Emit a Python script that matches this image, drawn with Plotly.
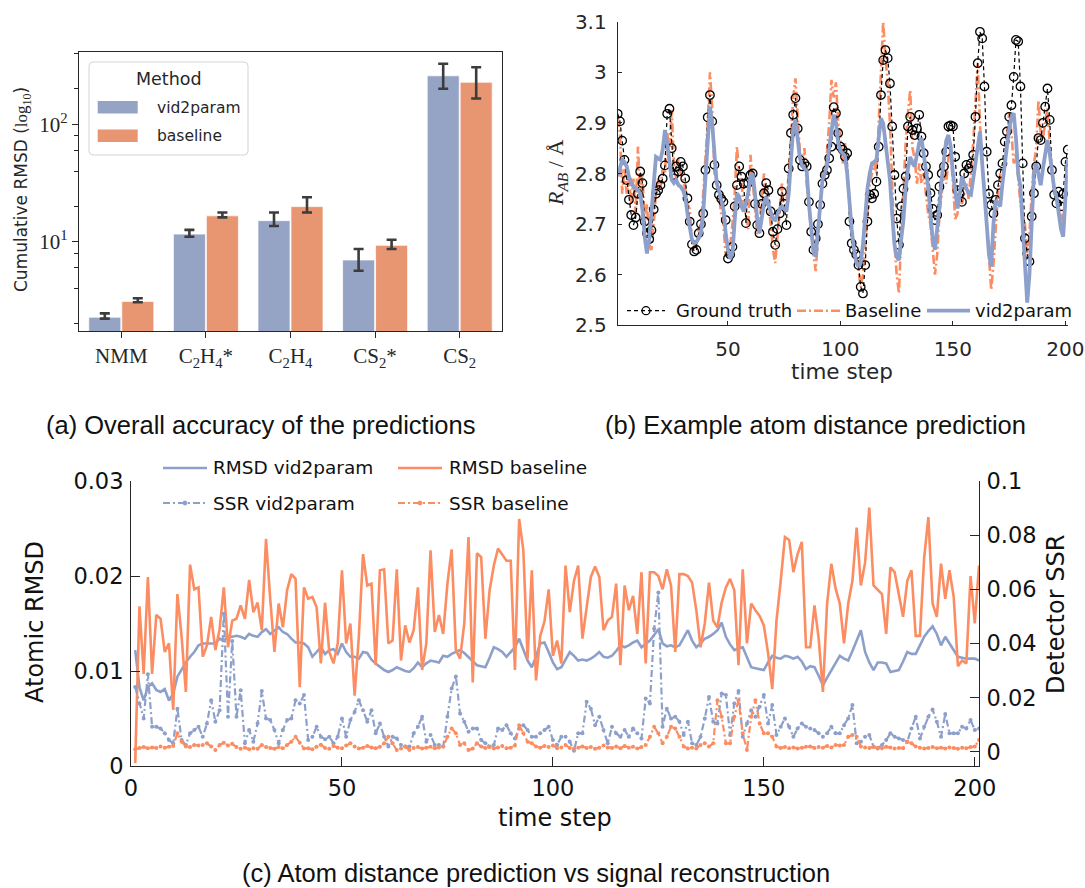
import plotly.graph_objects as go

W, H = 1085, 888


def px(x):
    return x / W


def py(y):
    return 1 - y / H


BLUE = "#8DA0CB"
ORANGE = "#FC8D62"
BAR_BLUE = "#95A3C4"
BAR_ORANGE = "#E89671"
AXC = "#262626"

# ---------------- (a) cumulative RMSD per system ----------------
systems = ["NMM", "C2H4*", "C2H4", "CS2*", "CS2"]
system_labels = ["NMM", "C<sub>2</sub>H<sub>4</sub>*", "C<sub>2</sub>H<sub>4</sub>",
                 "CS<sub>2</sub>*", "CS<sub>2</sub>"]
cum_rmsd_vid2param = [2.27, 11.6, 15.1, 6.98, 259]
cum_rmsd_vid2param_lo = [2.21, 11.0, 13.6, 5.66, 201]
cum_rmsd_vid2param_hi = [2.45, 12.6, 17.7, 8.67, 328]
cum_rmsd_baseline = [3.10, 16.6, 19.9, 9.31, 228]
cum_rmsd_baseline_lo = [3.05, 16.1, 17.7, 8.67, 166]
cum_rmsd_baseline_hi = [3.30, 17.7, 23.9, 10.4, 306]

# ---------------- (b) atom distance R_AB over time ----------------
steps_b = list(range(1, 202))
r_ground_truth = [
    2.918, 2.903, 2.865, 2.827, 2.787, 2.748, 2.718, 2.698, 2.713, 2.760,
    2.804, 2.781, 2.705, 2.682, 2.670, 2.688, 2.729, 2.760, 2.767, 2.777,
    2.790, 2.816, 2.918, 2.928, 2.850, 2.797, 2.814, 2.804, 2.823, 2.814,
    2.790, 2.751, 2.705, 2.660, 2.646, 2.649, 2.682, 2.700, 2.721, 2.807,
    2.911, 2.955, 2.903, 2.817, 2.777, 2.758, 2.750, 2.744, 2.708, 2.632,
    2.640, 2.655, 2.735, 2.777, 2.814, 2.794, 2.780, 2.702, 2.781, 2.797,
    2.800, 2.740, 2.698, 2.682, 2.740, 2.761, 2.781, 2.767, 2.725, 2.685,
    2.659, 2.690, 2.721, 2.764, 2.740, 2.698, 2.810, 2.880, 2.916, 2.949,
    2.889, 2.827, 2.814, 2.820, 2.814, 2.744, 2.685, 2.649, 2.672, 2.700,
    2.738, 2.780, 2.797, 2.807, 2.830, 2.853, 2.931, 2.919, 2.880, 2.853,
    2.847, 2.833, 2.840, 2.705, 2.662, 2.649, 2.640, 2.619, 2.576, 2.563,
    2.619, 2.705, 2.758, 2.751, 2.760, 2.784, 2.853, 2.955, 3.024, 3.044,
    3.028, 2.978, 2.893, 2.797, 2.711, 2.659, 2.735, 2.770, 2.794, 2.893,
    2.912, 2.886, 2.876, 2.889, 2.916, 2.873, 2.840, 2.814, 2.797, 2.761,
    2.730, 2.708, 2.718, 2.774, 2.800, 2.814, 2.843, 2.893, 2.895, 2.893,
    2.833, 2.767, 2.760, 2.744, 2.800, 2.817, 2.810, 2.820, 2.837, 2.912,
    3.018, 3.080, 3.067, 2.972, 2.843, 2.760, 2.738, 2.721, 2.748, 2.777,
    2.800, 2.820, 2.863, 2.883, 2.912, 2.935, 2.991, 3.064, 3.061, 2.972,
    2.820, 2.672, 2.642, 2.626, 2.715, 2.761, 2.814, 2.870, 2.866, 2.900,
    2.932, 2.968, 2.906, 2.807, 2.758, 2.741, 2.764, 2.735, 2.760, 2.823, 2.847,
]
r_baseline = [
    2.910, 2.880, 2.760, 2.810, 2.760, 2.790, 2.740, 2.790, 2.720, 2.853,
    2.760, 2.800, 2.700, 2.740, 2.660, 2.649, 2.700, 2.760, 2.790, 2.770,
    2.810, 2.800, 2.880, 2.850, 2.926, 2.820, 2.790, 2.830, 2.800, 2.790,
    2.770, 2.740, 2.730, 2.670, 2.650, 2.660, 2.690, 2.700, 2.760, 2.830,
    2.900, 3.000, 2.930, 2.800, 2.790, 2.760, 2.720, 2.700, 2.636, 2.650,
    2.660, 2.700, 2.760, 2.853, 2.800, 2.780, 2.740, 2.720, 2.690, 2.837,
    2.780, 2.720, 2.680, 2.700, 2.760, 2.800, 2.760, 2.740, 2.700, 2.650,
    2.623, 2.680, 2.740, 2.780, 2.720, 2.740, 2.800, 2.880, 2.950, 2.988,
    2.900, 2.840, 2.820, 2.850, 2.780, 2.730, 2.680, 2.640, 2.607, 2.680,
    2.740, 2.800, 2.790, 2.840, 2.900, 2.985, 2.950, 2.980, 2.900, 2.870,
    2.820, 2.860, 2.800, 2.730, 2.680, 2.650, 2.640, 2.610, 2.576, 2.600,
    2.660, 2.720, 2.780, 2.800, 2.820, 2.800, 2.900, 3.020, 3.100, 3.030,
    2.980, 2.900, 2.760, 2.660, 2.600, 2.563, 2.680, 2.780, 2.860, 2.920,
    2.965, 2.850, 2.830, 2.780, 2.820, 2.780, 2.800, 2.760, 2.720, 2.700,
    2.650, 2.600, 2.640, 2.720, 2.760, 2.800, 2.780, 2.830, 2.850, 2.780,
    2.710, 2.720, 2.760, 2.740, 2.760, 2.780, 2.750, 2.800, 2.860, 2.940,
    3.018, 2.900, 2.820, 2.770, 2.700, 2.640, 2.570, 2.620, 2.700, 2.760,
    2.800, 2.780, 2.820, 2.880, 2.920, 2.880, 2.820, 2.840, 2.780, 2.740,
    2.720, 2.700, 2.630, 2.680, 2.760, 2.820, 2.850, 2.945, 2.880, 2.870,
    2.900, 2.930, 2.860, 2.800, 2.760, 2.750, 2.740, 2.720, 2.700, 2.760, 2.830,
]
r_vid2param = [
    2.794, 2.814, 2.827, 2.823, 2.814, 2.794, 2.781, 2.774, 2.771, 2.767,
    2.761, 2.728, 2.675, 2.642, 2.669, 2.728, 2.787, 2.833, 2.830, 2.827,
    2.847, 2.886, 2.860, 2.814, 2.787, 2.781, 2.787, 2.777, 2.774, 2.767,
    2.754, 2.721, 2.695, 2.669, 2.662, 2.665, 2.672, 2.682, 2.721, 2.787,
    2.860, 2.932, 2.899, 2.827, 2.781, 2.767, 2.748, 2.728, 2.682, 2.649,
    2.632, 2.642, 2.708, 2.761, 2.754, 2.735, 2.725, 2.744, 2.761, 2.795,
    2.800, 2.760, 2.710, 2.682, 2.710, 2.740, 2.754, 2.740, 2.720, 2.710,
    2.708, 2.720, 2.730, 2.735, 2.730, 2.725, 2.760, 2.830, 2.890, 2.906,
    2.870, 2.830, 2.815, 2.810, 2.805, 2.740, 2.680, 2.645, 2.636, 2.690,
    2.750, 2.787, 2.800, 2.814, 2.850, 2.890, 2.916, 2.900, 2.860, 2.845,
    2.840, 2.835, 2.800, 2.740, 2.690, 2.650, 2.625, 2.616, 2.623, 2.660,
    2.720, 2.770, 2.800, 2.820, 2.823, 2.827, 2.870, 2.909, 2.899, 2.860,
    2.820, 2.787, 2.720, 2.660, 2.635, 2.629, 2.670, 2.708, 2.770, 2.810,
    2.833, 2.820, 2.814, 2.840, 2.860, 2.870, 2.840, 2.800, 2.774, 2.720,
    2.670, 2.649, 2.690, 2.735, 2.790, 2.830, 2.865, 2.876, 2.853, 2.800,
    2.760, 2.731, 2.760, 2.794, 2.780, 2.770, 2.760, 2.758, 2.790, 2.827,
    2.860, 2.883, 2.820, 2.761, 2.700, 2.640, 2.616, 2.700, 2.748, 2.740,
    2.735, 2.780, 2.820, 2.850, 2.890, 2.912, 2.919, 2.870, 2.800, 2.774,
    2.700, 2.600, 2.545, 2.600, 2.700, 2.800, 2.820, 2.800, 2.777, 2.810,
    2.840, 2.866, 2.840, 2.800, 2.770, 2.754, 2.720, 2.690, 2.675, 2.740, 2.827,
]

# ---------------- (c) atomic RMSD vs detector SSR (values in units of 1e-3) ----------------
steps_c = list(range(1, 202))
rmsd_vid2param_e3 = [
    12.2, 8.3, 6.9, 8.3, 8.7, 8.0, 7.8, 8.1, 6.9, 7.6,
    9.4, 10.2, 10.9, 11.5, 12.0, 12.7, 12.9, 12.9, 12.9, 12.9,
    13.4, 13.2, 13.6, 13.6, 13.7, 13.6, 13.4, 13.9, 13.7, 13.6,
    14.1, 14.4, 13.9, 14.3, 14.6, 14.1, 13.9, 13.4, 13.0, 13.0,
    12.9, 12.5, 11.5, 12.0, 12.5, 11.8, 12.2, 12.3, 11.8, 12.9,
    12.0, 11.5, 11.5, 11.3, 12.0, 11.9, 11.2, 10.8, 10.4, 10.1,
    9.9, 10.1, 10.4, 10.2, 10.0, 9.9, 10.3, 10.9, 10.4, 10.8,
    11.1, 11.0, 10.9, 11.6, 11.5, 11.8, 12.0, 12.2, 11.9, 11.5,
    11.0, 10.6, 10.5, 10.4, 11.4, 12.5, 12.3, 12.0, 11.5, 12.0,
    12.5, 13.4, 12.2, 11.1, 10.4, 11.5, 12.9, 13.0, 12.0, 10.9,
    10.2, 10.4, 11.2, 12.0, 11.6, 11.1, 11.2, 11.1, 11.3, 11.6,
    12.0, 11.5, 11.4, 11.6, 12.1, 12.7, 12.5, 12.7, 13.0, 13.2,
    12.5, 12.9, 13.2, 13.8, 14.4, 12.9, 12.6, 12.7, 12.5, 12.7,
    13.5, 14.3, 13.2, 12.5, 12.9, 13.4, 13.6, 13.9, 14.3, 15.1,
    13.6, 12.8, 12.2, 12.4, 12.5, 11.4, 10.4, 10.3, 10.2, 10.1,
    10.9, 11.6, 11.4, 11.3, 11.6, 11.5, 11.3, 11.5, 11.0, 10.2,
    10.5, 10.4, 9.5, 8.5, 9.3, 10.1, 10.9, 11.6, 11.3, 11.1,
    12.1, 13.2, 14.3, 12.0, 10.9, 10.1, 10.9, 10.9, 10.8, 9.9,
    10.0, 10.1, 11.0, 12.0, 11.8, 11.8, 12.7, 13.6, 14.2, 14.7,
    13.9, 12.7, 13.6, 12.9, 12.2, 11.5, 11.4, 11.3, 11.3, 11.3, 11.1,
]
rmsd_baseline_e3 = [
    0.3, 16.8, 9.7, 19.9, 9.7, 15.9, 15.5, 12.0, 12.9, 5.9,
    18.1, 13.6, 7.8, 21.2, 18.6, 18.8, 11.5, 12.7, 15.7, 12.2,
    14.4, 18.8, 12.5, 15.3, 15.5, 16.9, 15.5, 19.6, 16.2, 17.2,
    14.3, 23.9, 17.6, 12.0, 17.1, 14.6, 18.5, 20.2, 19.7, 8.3,
    18.8, 17.6, 17.8, 16.7, 10.8, 17.2, 12.0, 10.8, 12.9, 20.6,
    12.9, 15.0, 7.4, 13.6, 22.3, 19.0, 19.2, 10.6, 20.6, 20.7,
    12.9, 13.2, 20.7, 11.1, 14.8, 13.0, 14.3, 18.8, 10.1, 12.9,
    22.7, 14.1, 15.9, 13.9, 19.2, 22.8, 12.2, 11.3, 15.0, 24.1,
    8.8, 22.4, 22.0, 13.4, 18.5, 21.1, 22.9, 22.3, 21.6, 21.6,
    10.1, 26.0, 22.7, 11.3, 20.6, 9.0, 13.7, 15.2, 18.6, 11.6,
    13.2, 10.8, 21.1, 16.2, 19.5, 21.1, 13.4, 16.7, 19.9, 21.0,
    19.9, 14.3, 15.3, 15.7, 19.2, 10.6, 19.0, 16.4, 17.9, 13.9,
    20.4, 10.8, 20.4, 20.4, 20.0, 18.6, 20.7, 19.0, 12.0, 20.2,
    20.2, 20.0, 19.3, 16.4, 12.5, 15.0, 19.3, 15.3, 14.6, 17.2,
    18.8, 19.7, 18.5, 10.6, 20.7, 12.9, 17.1, 16.4, 15.8, 14.8,
    11.9, 8.1, 15.3, 19.5, 24.1, 23.8, 20.4, 22.3, 23.6, 12.5,
    12.5, 16.9, 13.4, 7.8, 17.1, 21.3, 18.7, 17.1, 12.9, 17.1,
    19.5, 25.1, 19.0, 21.4, 27.2, 19.0, 18.5, 18.1, 13.9, 20.9,
    20.4, 18.1, 15.7, 19.5, 20.6, 13.7, 13.7, 21.9, 26.2, 17.1,
    15.7, 21.3, 17.6, 20.6, 17.8, 10.5, 11.1, 10.8, 20.0, 15.0, 21.1,
]
ssr_vid2param_e3 = [
    24.0, 17.9, 12.4, 28.7, 9.3, 9.3, 8.7, 6.9, 4.4, 3.2,
    16.0, 4.4, 2.6, 6.9, 8.1, 9.3, 5.6, 10.5, 19.1, 11.2,
    15.4, 51.0, 13.0, 41.0, 13.0, 22.8, 3.2, 8.1, 3.8, 10.5,
    22.5, 12.4, 11.8, 8.1, 3.2, 8.1, 11.8, 12.4, 19.1, 17.9,
    21.0, 4.4, 5.6, 9.3, 5.6, 4.7, 5.6, 3.2, 5.6, 12.4,
    5.6, 11.8, 14.8, 19.1, 15.4, 11.2, 15.4, 6.9, 10.5, 5.6,
    2.0, 5.6, 5.0, 2.6, 2.0, 2.0, 6.9, 9.3, 13.0, 3.8,
    6.3, 2.6, 2.6, 2.0, 13.0, 23.4, 27.9, 14.2, 11.2, 7.5,
    8.7, 8.7, 4.4, 3.2, 2.0, 2.6, 8.7, 8.1, 9.9, 6.9,
    5.0, 8.7, 9.9, 8.1, 5.6, 5.6, 6.9, 8.1, 9.3, 4.4,
    2.6, 5.6, 5.6, 3.8, 0.5, 6.9, 6.9, 18.5, 16.0, 9.9,
    13.0, 8.1, 3.2, 9.3, 6.9, 5.6, 8.1, 5.6, 8.7, 6.9,
    5.0, 19.7, 17.9, 45.5, 58.9, 9.3, 16.0, 12.4, 13.0, 11.2,
    6.3, 11.2, 3.2, 2.6, 5.6, 12.4, 20.3, 11.2, 10.5, 21.6,
    21.0, 6.3, 17.9, 22.5, 5.6, 10.5, 15.4, 13.0, 16.7, 21.0,
    10.5, 17.3, 6.3, 9.3, 12.4, 9.3, 5.6, 8.7, 10.5, 9.3,
    8.7, 8.1, 6.9, 5.6, 6.9, 9.3, 6.9, 6.9, 9.9, 12.4,
    17.3, 3.2, 3.8, 5.6, 6.3, 2.0, 1.3, 2.6, 4.4, 6.9,
    5.6, 5.0, 4.4, 3.8, 8.7, 13.0, 5.0, 9.3, 13.0, 15.7,
    11.2, 5.6, 14.0, 6.9, 6.9, 6.9, 9.3, 8.7, 11.8, 8.1, 8.7,
]
ssr_baseline_e3 = [
    1.0, 1.5, 1.8, 1.4, 1.7, 1.5, 2.0, 1.6, 1.9, 2.2,
    6.9, 3.8, 2.0, 1.8, 2.6, 2.4, 2.6, 3.2, 2.0, 0.7,
    2.6, 3.4, 2.4, 3.0, 1.8, 1.2, 1.6, 1.0, 1.4, 1.2,
    2.6, 1.8, 1.5, 1.2, 1.8, 1.4, 2.6, 3.8, 5.6, 3.4,
    1.3, 1.4, 1.0, 1.9, 2.7, 1.5, 1.2, 2.2, 1.6, 1.4,
    2.4, 3.2, 2.0, 1.3, 1.6, 2.2, 1.7, 1.4, 1.9, 3.2,
    5.6, 3.2, 0.7, 1.3, 2.0, 0.7, 1.5, 1.8, 1.3, 1.6,
    1.9, 1.4, 1.7, 2.0, 5.6, 8.7, 6.9, 2.6, 3.2, 0.7,
    1.3, 3.2, 2.0, 1.5, 1.8, 1.3, 1.7, 2.2, 1.4, 1.6,
    2.4, 9.9, 6.9, 3.8, 3.2, 2.0, 1.6, 2.2, 1.8, 2.4,
    1.4, 1.7, 2.6, 1.5, 1.3, 1.6, 2.0, 1.5, 1.8, 1.2,
    1.6, 2.4, 1.7, 1.5, 2.0, 1.4, 2.2, 1.6, 1.9, 1.3,
    1.8, 2.6, 5.6, 9.3, 6.9, 3.2, 5.6, 9.3, 8.7, 5.6,
    2.0, 1.3, 1.6, 1.3, 2.6, 3.2, 2.0, 3.2, 19.1, 13.0,
    3.2, 3.2, 13.0, 19.1, 6.9, 0.7, 13.0, 19.1, 10.5, 6.9,
    6.9, 5.6, 2.0, 1.5, 1.8, 1.4, 1.7, 1.3, 1.6, 1.9,
    2.0, 1.5, 1.8, 1.6, 2.2, 1.7, 2.6, 2.4, 2.6, 5.6,
    6.3, 5.6, 2.0, 1.7, 1.5, 1.8, 1.6, 1.4, 1.9, 1.7,
    1.3, 1.5, 1.4, 3.8, 3.2, 2.0, 1.6, 1.3, 1.5, 1.8,
    1.4, 1.6, 1.3, 1.7, 1.5, 1.2, 1.6, 1.4, 1.8, 2.0, 4.4,
]

rmsd_vid2param = [v / 1000 for v in rmsd_vid2param_e3]
rmsd_baseline = [v / 1000 for v in rmsd_baseline_e3]
ssr_vid2param = [v / 1000 for v in ssr_vid2param_e3]
ssr_baseline = [v / 1000 for v in ssr_baseline_e3]

fig = go.Figure()

# (a) grouped bars with asymmetric error bars
for name, vals, lo, hi, col in [
    ("vid2param", cum_rmsd_vid2param, cum_rmsd_vid2param_lo, cum_rmsd_vid2param_hi, BAR_BLUE),
    ("baseline", cum_rmsd_baseline, cum_rmsd_baseline_lo, cum_rmsd_baseline_hi, BAR_ORANGE),
]:
    fig.add_trace(go.Bar(
        x=systems, y=vals, name=name, xaxis="x", yaxis="y", showlegend=False,
        marker=dict(color=col, line=dict(color="rgba(255,255,255,0.7)", width=1)),
        error_y=dict(type="data", symmetric=False,
                     array=[h - v for h, v in zip(hi, vals)],
                     arrayminus=[v - l for v, l in zip(vals, lo)],
                     color="#3c3c3c", thickness=2.6, width=5),
    ))

# (b) distance traces
fig.add_trace(go.Scatter(
    x=steps_b, y=r_baseline, mode="lines", xaxis="x2", yaxis="y2", showlegend=False,
    line=dict(color=ORANGE, width=2.6, dash="9px,3px,2px,3px"),
))
fig.add_trace(go.Scatter(
    x=steps_b, y=r_ground_truth, mode="lines+markers", xaxis="x2", yaxis="y2", showlegend=False,
    line=dict(color="black", width=1.2, dash="4px,3px"),
    marker=dict(symbol="circle-open", size=8.5, color="black", line=dict(width=1.3)),
))
fig.add_trace(go.Scatter(
    x=steps_b, y=r_vid2param, mode="lines", xaxis="x2", yaxis="y2", showlegend=False,
    line=dict(color=BLUE, width=3.8),
))

# (c) RMSD on the left axis, SSR on the right axis
fig.add_trace(go.Scatter(
    x=steps_c, y=rmsd_vid2param, mode="lines", xaxis="x3", yaxis="y3", showlegend=False,
    line=dict(color=BLUE, width=2.6),
))
fig.add_trace(go.Scatter(
    x=steps_c, y=rmsd_baseline, mode="lines", xaxis="x3", yaxis="y3", showlegend=False,
    line=dict(color=ORANGE, width=2.6),
))
fig.add_trace(go.Scatter(
    x=steps_c, y=ssr_vid2param, mode="lines+markers", xaxis="x3", yaxis="y4", showlegend=False,
    line=dict(color=BLUE, width=2.2, dash="7px,3px,2px,3px"),
    marker=dict(size=4, color=BLUE),
))
fig.add_trace(go.Scatter(
    x=steps_c, y=ssr_baseline, mode="lines+markers", xaxis="x3", yaxis="y4", showlegend=False,
    line=dict(color=ORANGE, width=2.2, dash="7px,3px,2px,3px"),
    marker=dict(size=4, color=ORANGE),
))

SANS = "DejaVu Sans"
SERIF = "Liberation Serif"

common_b = dict(showgrid=False, zeroline=False, showline=True, linecolor=AXC, linewidth=1,
                ticks="inside", ticklen=4, tickcolor=AXC, tickwidth=1, automargin=False,
                ticklabelstandoff=6,
                tickfont=dict(family=SANS, size=20, color=AXC))
common_c = dict(showgrid=False, zeroline=False, showline=True, linecolor=AXC, linewidth=1,
                ticks="inside", ticklen=9, tickcolor=AXC, tickwidth=1, automargin=False,
                ticklabelstandoff=2,
                tickfont=dict(family=SANS, size=22.5, color="#111111"))

fig.update_layout(
    template="none",
    font=dict(family=SANS, size=18, color=AXC),
    width=W, height=H,
    margin=dict(l=0, r=0, t=0, b=0, pad=0, autoexpand=False),
    paper_bgcolor="white", plot_bgcolor="white",
    showlegend=False,
    barmode="group", bargap=0.22, bargroupgap=0.03,
    # (a)
    xaxis=dict(domain=[px(79), px(502)], anchor="y", type="category", range=[-0.5, 4.5],
               tickvals=systems, ticktext=system_labels, automargin=False,
               showgrid=False, zeroline=False, showline=True, mirror=True,
               linecolor=AXC, linewidth=1.3, ticks="outside", ticklen=6, tickwidth=1.3,
               tickcolor=AXC, tickfont=dict(family=SERIF, size=21, color=AXC)),
    yaxis=dict(domain=[py(331), py(52)], anchor="x", type="log", range=[0.239, 2.616],
               tickvals=[10, 100], ticktext=["10<sup>1</sup>", "10<sup>2</sup>"],
               automargin=False,
               showgrid=False, zeroline=False, showline=True, mirror=True,
               linecolor=AXC, linewidth=1.3, ticks="outside", ticklen=6, tickwidth=1.3,
               tickcolor=AXC, tickfont=dict(family=SERIF, size=21, color=AXC),
               minor=dict(tickvals=[2, 4, 6, 8, 20, 40, 60, 80, 200, 400],
                          ticks="outside", ticklen=3.5, tickwidth=1, tickcolor=AXC)),
    # (b)
    xaxis2=dict(domain=[px(617.7), px(1067.7)], anchor="y2", range=[1, 201],
                tickvals=[50, 100, 150, 200], **common_b),
    yaxis2=dict(domain=[py(325.3), py(21.7)], anchor="x2", range=[2.5, 3.1],
                tickvals=[2.5, 2.6, 2.7, 2.8, 2.9, 3.0, 3.1],
                ticktext=["2.5", "2.6", "2.7", "2.8", "2.9", "3", "3.1"], **common_b),
    # (c)
    xaxis3=dict(domain=[px(131), px(979)], anchor="y3", range=[0, 201],
                tickvals=[0, 50, 100, 150, 200], **common_c),
    yaxis3=dict(domain=[py(766), py(481)], anchor="x3", range=[0, 0.03],
                tickvals=[0, 0.01, 0.02, 0.03], ticktext=["0", "0.01", "0.02", "0.03"],
                **common_c),
    yaxis4=dict(anchor="x3", overlaying="y3", side="right", range=[-0.00517, 0.1],
                tickvals=[0, 0.02, 0.04, 0.06, 0.08, 0.1],
                ticktext=["0", "0.02", "0.04", "0.06", "0.08", "0.1"], **common_c),
)

annotations = []


def text(x, y, s, size, family=SANS, color="#111111", xanchor="center", angle=0):
    annotations.append(dict(x=px(x), y=py(y), xref="paper", yref="paper", text=s,
                            showarrow=False, xanchor=xanchor, yanchor="middle",
                            textangle=angle, font=dict(family=family, size=size, color=color)))


shapes = []


def hline(x0, x1, y, color, width, dash="solid"):
    shapes.append(dict(type="line", xref="paper", yref="paper", x0=px(x0), x1=px(x1),
                       y0=py(y), y1=py(y), line=dict(color=color, width=width, dash=dash)))


def circle(x, y, r, color, fill="rgba(0,0,0,0)", width=1.3):
    shapes.append(dict(type="circle", xref="paper", yref="paper", x0=px(x - r), x1=px(x + r),
                       y0=py(y + r), y1=py(y - r), line=dict(color=color, width=width),
                       fillcolor=fill))


def rect(x0, y0, x1, y1, fill, line_color="rgba(0,0,0,0)", width=0):
    shapes.append(dict(type="rect", xref="paper", yref="paper", x0=px(x0), x1=px(x1),
                       y0=py(y1), y1=py(y0), fillcolor=fill,
                       line=dict(color=line_color, width=width)))


# (a) legend box with rounded corners
lx0, ly0, lx1, ly1, rad = 89, 62, 248, 155, 4
path = (f"M {px(lx0 + rad)},{py(ly0)} L {px(lx1 - rad)},{py(ly0)} "
        f"Q {px(lx1)},{py(ly0)} {px(lx1)},{py(ly0 + rad)} L {px(lx1)},{py(ly1 - rad)} "
        f"Q {px(lx1)},{py(ly1)} {px(lx1 - rad)},{py(ly1)} L {px(lx0 + rad)},{py(ly1)} "
        f"Q {px(lx0)},{py(ly1)} {px(lx0)},{py(ly1 - rad)} L {px(lx0)},{py(ly0 + rad)} "
        f"Q {px(lx0)},{py(ly0)} {px(lx0 + rad)},{py(ly0)} Z")
shapes.append(dict(type="path", xref="paper", yref="paper", path=path,
                   fillcolor="rgba(255,255,255,0.85)", line=dict(color="#d4d4d4", width=1)))
text(168.5, 79, "Method", 17.5, color=AXC)
rect(97.7, 101, 137.7, 113.5, BAR_BLUE)
rect(97.7, 129.5, 137.7, 142, BAR_ORANGE)
text(155, 108, "vid2param", 15.5, color=AXC, xanchor="left")
text(155, 136, "baseline", 15.5, color=AXC, xanchor="left")

# (a) axis title
text(22, 190, "Cumulative RMSD (<span style='font-family:Liberation Serif'>log<sub>10</sub></span>)",
     17, color=AXC, angle=-90)

# (b) legend along the bottom
hline(627, 665, 310.7, "black", 1.2, "4px,3px")
circle(646, 310.7, 4, "black")
text(674, 310.7, "Ground truth", 18, color="#111111", xanchor="left")
hline(797, 840, 310.7, ORANGE, 2.6, "9px,3px,2px,3px")
text(843, 310.7, "Baseline", 18, color="#111111", xanchor="left")
hline(927, 970, 310.7, BLUE, 3.8)
text(973, 310.7, "vid2param", 18, color="#111111", xanchor="left")

# (b) axis titles
text(842, 371, "time step", 21.5, color=AXC)
text(557, 173, "<i>R</i><sub><i>AB</i></sub> / Å", 22, family=SERIF, color=AXC, angle=-90)

# (c) legend above the plot
hline(163, 207, 468, BLUE, 2.6)
text(211, 468, "RMSD vid2param", 18.5, xanchor="left")
hline(398, 442, 468, ORANGE, 2.6)
text(447, 468, "RMSD baseline", 18.5, xanchor="left")
hline(163, 207, 503, BLUE, 2.2, "7px,3px,2px,3px")
circle(185, 503, 2, BLUE, BLUE, 1)
text(211, 503, "SSR vid2param", 18.5, xanchor="left")
hline(398, 442, 503, ORANGE, 2.2, "7px,3px,2px,3px")
circle(420, 503, 2, ORANGE, ORANGE, 1)
text(447, 503, "SSR baseline", 18.5, xanchor="left")

# (c) axis titles
text(555, 818, "time step", 24)
text(35, 622, "Atomic RMSD", 24, angle=-90)
text(1056, 615, "Detector SSR", 24, angle=-90)

# sub-figure captions
CAP = "Liberation Sans"
text(260, 425, "(a) Overall accuracy of the predictions", 25.5, family=CAP, color="#111111")
text(815, 425, "(b) Example atom distance prediction", 25.5, family=CAP, color="#111111")
text(536, 873, "(c) Atom distance prediction vs signal reconstruction", 25.5, family=CAP,
     color="#111111")

fig.update_layout(annotations=annotations, shapes=shapes)

fig.write_html(
    "out.html",
    post_script="document.body.style.margin='0';"
                "document.documentElement.style.overflow='hidden';",
)
